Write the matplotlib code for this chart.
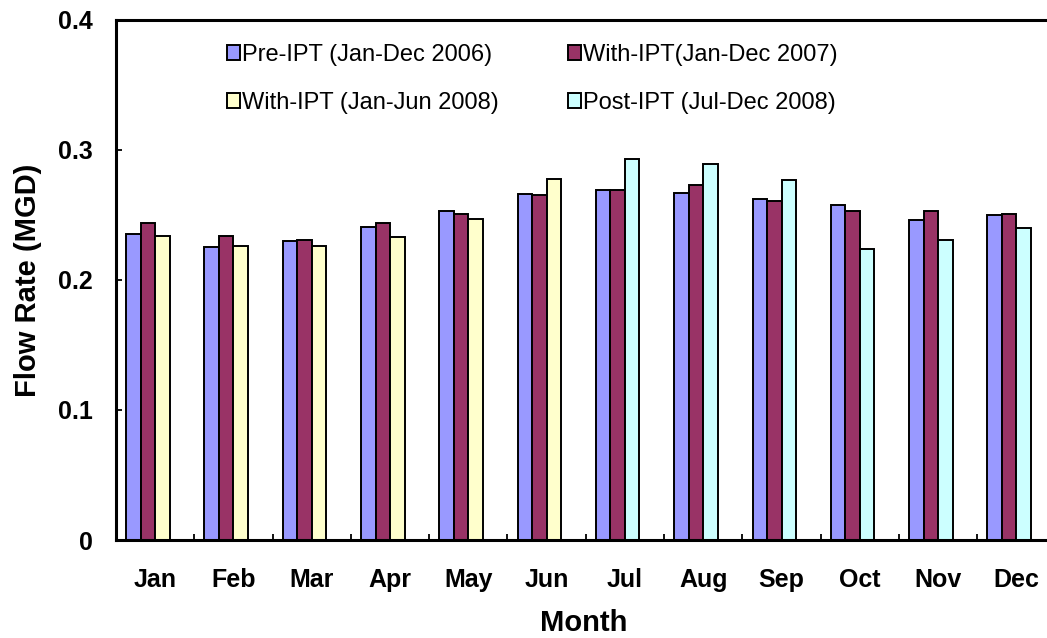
import matplotlib
matplotlib.use("Agg")
import matplotlib.pyplot as plt
import numpy as np

# monthly flow rates (MGD)
months = ['Jan', 'Feb', 'Mar', 'Apr', 'May', 'Jun',
          'Jul', 'Aug', 'Sep', 'Oct', 'Nov', 'Dec']
pre_2006 = [0.235, 0.225, 0.230, 0.241, 0.253, 0.266,
            0.269, 0.267, 0.262, 0.258, 0.246, 0.250]
with_2007 = [0.244, 0.234, 0.231, 0.244, 0.251, 0.265,
             0.269, 0.273, 0.261, 0.253, 0.253, 0.251]
with_2008 = [0.234, 0.226, 0.226, 0.233, 0.247, 0.278,
             np.nan, np.nan, np.nan, np.nan, np.nan, np.nan]
post_2008 = [np.nan, np.nan, np.nan, np.nan, np.nan, np.nan,
             0.293, 0.289, 0.277, 0.224, 0.231, 0.240]
series_names = ['Pre-IPT (Jan-Dec 2006)', 'With-IPT(Jan-Dec 2007)',
                'With-IPT (Jan-Jun 2008)', 'Post-IPT (Jul-Dec 2008)']
colors = ['#9999FF', '#993366', '#FFFFCC', '#CCFFFF']

plt.rcParams['font.family'] = ['Liberation Sans', 'DejaVu Sans']

fig = plt.figure(figsize=(10.47, 6.38), dpi=100)
ax = fig.add_axes([0.1108, 0.1536, 0.8974, 0.8151])

x = np.arange(len(months)) + 0.5
w = 0.185
bar_kw = dict(width=w, edgecolor='black', linewidth=1.4)
b1 = ax.bar(x - 1.5*w, pre_2006, color=colors[0], label=series_names[0], **bar_kw)
b2 = ax.bar(x - 0.5*w, with_2007, color=colors[1], label=series_names[1], **bar_kw)
b3 = ax.bar(x + 0.5*w, with_2008, color=colors[2], label=series_names[2], **bar_kw)
b4 = ax.bar(x + 0.5*w, post_2008, color=colors[3], label=series_names[3], **bar_kw)

ax.set_xlim(0, 12)
ax.set_ylim(0, 0.4)
ax.set_yticks([0, 0.1, 0.2, 0.3, 0.4])
ax.set_yticklabels(['0', '0.1', '0.2', '0.3', '0.4'], fontsize=18, fontweight='bold')
ax.set_xticks(x)
ax.set_xticklabels(months, fontsize=18, fontweight='bold')
ax.set_xticks(np.arange(1, 12), minor=True)
ax.tick_params(axis='x', which='major', length=0, pad=20)
ax.tick_params(axis='x', which='minor', direction='in', length=4, width=1.3)
ax.tick_params(axis='y', direction='in', length=4, width=1.3, pad=17)

for side in ['left', 'top', 'bottom']:
    ax.spines[side].set_linewidth(2.2)
ax.spines['right'].set_visible(False)

ax.set_xlabel('Month', fontsize=21, fontweight='bold')
ax.xaxis.label.set_va('center')
ax.xaxis.set_label_coords(0.498, -0.16)
ax.set_ylabel('Flow Rate (MGD)', fontsize=21, fontweight='bold')
ax.yaxis.label.set_va('center')
ax.yaxis.set_label_coords(-0.094, 0.5)

# legend fills row-wise in the reference
handles = [b1, b3, b2, b4]
labels = [series_names[0], series_names[2], series_names[1], series_names[3]]
ax.legend(handles, labels, loc='upper left', bbox_to_anchor=(0.095, 0.995), ncol=2,
          frameon=False, fontsize=17, handlelength=0.55, handleheight=0.55,
          handletextpad=0.12, columnspacing=2.9, labelspacing=1.1)

fig.savefig('out.png', dpi=100)
